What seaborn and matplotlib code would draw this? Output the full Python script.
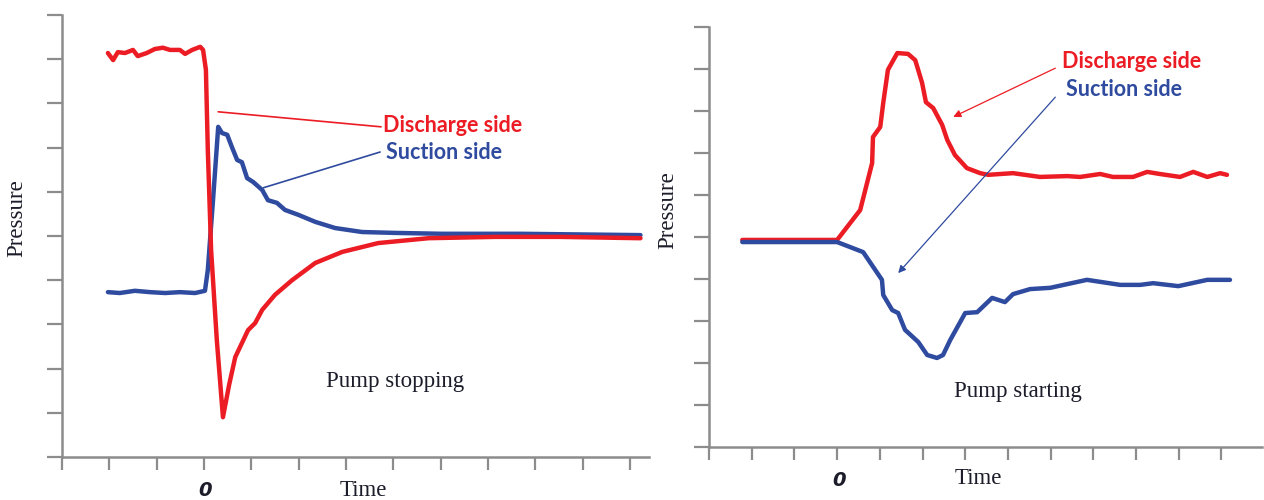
import matplotlib
matplotlib.use("Agg")
import matplotlib.pyplot as plt
import seaborn as sns
import pandas as pd

# ---- Pump stopping ----
stop_discharge_t = [-2.03, -1.92, -1.82, -1.67, -1.50, -1.40, -1.21, -1.04, -0.87, -0.72, -0.51, -0.40,
                    -0.25, -0.08, -0.02, 0.04, 0.08, 0.15, 0.27, 0.40, 0.53, 0.66, 0.93, 1.08, 1.23,
                    1.50, 1.86, 2.35, 2.92, 3.68, 4.74, 6.15, 7.53, 9.22]
stop_discharge_p = [9.14, 8.98, 9.16, 9.14, 9.21, 9.07, 9.14, 9.23, 9.26, 9.21, 9.21, 9.12,
                    9.21, 9.28, 9.21, 8.76, 6.95, 4.68, 2.65, 0.90, 1.63, 2.26, 2.87, 3.03, 3.33,
                    3.67, 4.00, 4.39, 4.64, 4.84, 4.95, 4.98, 4.98, 4.95]
stop_suction_t = [-2.03, -1.78, -1.46, -1.14, -0.82, -0.51, -0.19, 0.02, 0.08, 0.19, 0.30, 0.38,
                  0.49, 0.59, 0.70, 0.80, 0.91, 1.04, 1.23, 1.35, 1.54, 1.71, 1.99, 2.35, 2.77,
                  3.34, 4.04, 5.03, 6.68, 9.22]
stop_suction_p = [3.73, 3.71, 3.76, 3.73, 3.71, 3.73, 3.71, 3.76, 4.23, 5.81, 7.47, 7.33,
                  7.29, 7.01, 6.72, 6.67, 6.31, 6.22, 6.04, 5.81, 5.75, 5.59, 5.48, 5.32, 5.18,
                  5.09, 5.07, 5.05, 5.05, 5.02]

# ---- Pump starting ----
start_discharge_t = [-2.22, -1.10, 0.00, 0.54, 0.82, 0.84, 1.01, 1.08, 1.19, 1.41, 1.66, 1.83,
                     1.99, 2.08, 2.25, 2.46, 2.58, 2.76, 3.04, 3.35, 3.54, 3.82, 4.12, 4.75,
                     5.39, 5.69, 6.16, 6.46, 6.93, 7.26, 7.56, 8.03, 8.34, 8.67, 8.97, 9.13]
start_discharge_p = [4.93, 4.93, 4.93, 5.64, 6.76, 7.38, 7.62, 8.19, 8.98, 9.38, 9.36, 9.21,
                     8.67, 8.21, 8.07, 7.67, 7.31, 6.95, 6.64, 6.52, 6.48, 6.50, 6.52, 6.43,
                     6.45, 6.43, 6.50, 6.43, 6.43, 6.55, 6.50, 6.43, 6.55, 6.43, 6.52, 6.48]
start_suction_t = [-2.22, 0.00, 0.61, 1.05, 1.08, 1.29, 1.43, 1.59, 1.90, 2.11, 2.34, 2.48,
                   2.65, 3.00, 3.28, 3.63, 3.93, 4.12, 4.52, 4.99, 5.85, 6.63, 7.10, 7.40,
                   7.99, 8.67, 9.20]
start_suction_p = [4.88, 4.88, 4.64, 3.98, 3.62, 3.26, 3.19, 2.79, 2.50, 2.19, 2.12, 2.19,
                   2.55, 3.19, 3.21, 3.55, 3.45, 3.64, 3.76, 3.79, 3.98, 3.86, 3.86, 3.90,
                   3.83, 3.98, 3.98]

time_ticks = list(range(-3, 10))
pressure_ticks = list(range(0, 11))

RED = "#ec1c24"
BLUE = "#2f4b9f"
AXIS_GRAY = "#8c8c8c"
SERIF_COLOR = "#1c1c2a"

sns.set_theme(style="white")
plt.rcParams["font.family"] = ["DejaVu Sans"]

W, H = 1264, 500
fig = plt.figure(figsize=(W / 100, H / 100), dpi=100)

def px_axes(left, right, top, bottom):
    return fig.add_axes([left / W, 1 - bottom / H, (right - left) / W, (bottom - top) / H])

ax1 = px_axes(62, 649, 15, 457)
ax2 = px_axes(709, 1262, 27, 447)

def style_axes(ax, xmax):
    ax.set_xlim(-3, xmax)
    ax.set_ylim(0, 10)
    ax.set_xticks(time_ticks)
    ax.set_yticks(pressure_ticks)
    ax.set_xticklabels([])
    ax.set_yticklabels([])
    for side in ("top", "right"):
        ax.spines[side].set_visible(False)
    for side in ("left", "bottom"):
        ax.spines[side].set_color(AXIS_GRAY)
        ax.spines[side].set_linewidth(1.8)
    ax.tick_params(axis="y", direction="out", length=10.5, width=1.6, color=AXIS_GRAY, left=True)
    ax.tick_params(axis="x", direction="out", length=9, width=1.6, color=AXIS_GRAY, bottom=True)
    ax.set_xlabel("")
    ax.set_ylabel("")
    ax.patch.set_alpha(0)

def draw_series(ax, t, p, color):
    df = pd.DataFrame({"t": t, "p": p})
    sns.lineplot(data=df, x="t", y="p", ax=ax, color=color, lw=3.2, sort=False,
                 estimator=None, solid_joinstyle="round", solid_capstyle="round")

draw_series(ax1, stop_suction_t, stop_suction_p, BLUE)
draw_series(ax1, stop_discharge_t, stop_discharge_p, RED)
draw_series(ax2, start_discharge_t, start_discharge_p, RED)
draw_series(ax2, start_suction_t, start_suction_p, BLUE)

style_axes(ax1, 9.4)
style_axes(ax2, 9.95)

label_font = dict(family=["Lato", "DejaVu Sans"], fontweight="bold", fontsize=15.5)
serif_font = dict(family=["Liberation Serif", "DejaVu Serif"], fontsize=16.5, color=SERIF_COLOR)
zero_font = dict(family=["DejaVu Sans"], fontweight="bold", fontstyle="italic", fontsize=14,
                 color=SERIF_COLOR)

# Left panel: callout lines and labels
ax1.annotate("", xy=(0.30, 7.81), xytext=(3.74, 7.47),
             arrowprops=dict(arrowstyle="-", color=RED, lw=1.2, shrinkA=0, shrinkB=0))
ax1.annotate("", xy=(1.25, 6.09), xytext=(3.72, 6.90),
             arrowprops=dict(arrowstyle="-", color=BLUE, lw=1.2, shrinkA=0, shrinkB=0))
ax1.text(3.78, 7.49, "Discharge side", color=RED, ha="left", va="center", **label_font)
ax1.text(3.85, 6.88, "Suction side", color=BLUE, ha="left", va="center", **label_font)
ax1.text(4.04, 1.70, "Pump stopping", ha="center", va="center", **serif_font)
ax1.text(0.02, -0.75, "0", ha="center", va="center", clip_on=False, **zero_font)
ax1.text(3.36, -0.75, "Time", ha="center", va="center", clip_on=False, **serif_font)

# Right panel: arrows and labels
ax2.annotate("", xy=(2.72, 7.86), xytext=(5.11, 9.02),
             arrowprops=dict(arrowstyle="-|>", color=RED, lw=0.9, shrinkA=0, shrinkB=0,
                             mutation_scale=11))
ax2.annotate("", xy=(1.43, 4.14), xytext=(5.11, 8.33),
             arrowprops=dict(arrowstyle="-|>", color=BLUE, lw=0.9, shrinkA=0, shrinkB=0,
                             mutation_scale=11))
ax2.text(5.27, 9.17, "Discharge side", color=RED, ha="left", va="center", **label_font)
ax2.text(5.36, 8.50, "Suction side", color=BLUE, ha="left", va="center", **label_font)
ax2.text(4.24, 1.31, "Pump starting", ha="center", va="center", **serif_font)
ax2.text(0.05, -0.79, "0", ha="center", va="center", clip_on=False, **zero_font)
ax2.text(3.30, -0.74, "Time", ha="center", va="center", clip_on=False, **serif_font)

# Vertical axis titles
fig.text(17 / W, 1 - 218 / H, "Pressure", rotation=90, ha="center", va="center", **serif_font)
fig.text(668 / W, 1 - 210 / H, "Pressure", rotation=90, ha="center", va="center", **serif_font)

fig.savefig("out.png", dpi=100, facecolor="white")
